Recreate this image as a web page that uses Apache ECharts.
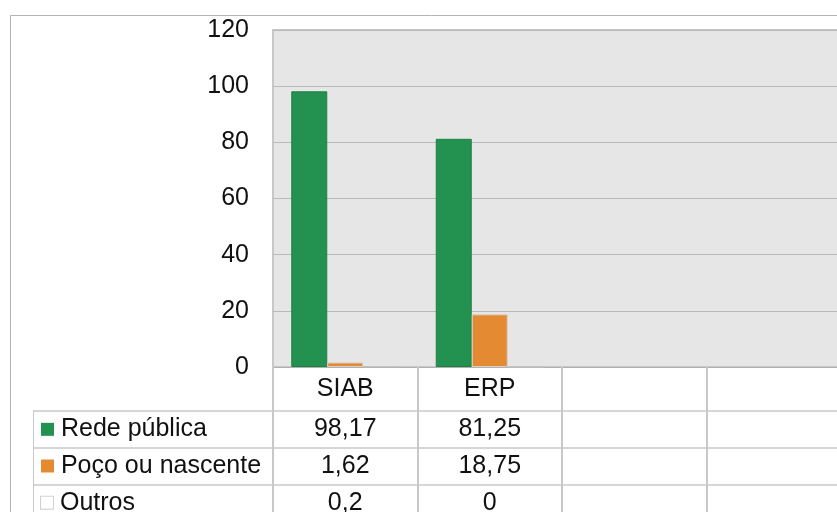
<!DOCTYPE html>
<html>
<head>
<meta charset="utf-8">
<script src="https://cdn.jsdelivr.net/npm/echarts@6/dist/echarts.min.js"></script>
<style>html,body{margin:0;padding:0;background:#fff;overflow:hidden;width:837px;height:512px}#c{width:851px;height:521px}</style>
</head>
<body>
<div id="c"></div>
<script>
// ---- data ----
const categories = ['SIAB', 'ERP', ' ', '  '];
const seriesNames = ['Rede pública', 'Poço ou nascente', 'Outros'];
const redePublica = [98.17, 81.25];
const pocoNascente = [1.62, 18.75];
const outros = [0.2, 0];
const yMin = 0, yMax = 120, yInterval = 20;

// ---- styling ----
const FONT = "'Liberation Sans', Arial, sans-serif";
const TXT = '#111111';
const GREEN = '#23914f';
const ORANGE = '#e38a33';
const LINE = '#c8c8c8';
const FS = 25;

const allValues = [redePublica, pocoNascente, outros];
const cellData = [];
allValues.forEach((arr, r) => arr.forEach((v, c) => cellData.push([c, r, v])));
const fmt = v => String(v).replace('.', ',');

const chart = echarts.init(document.getElementById('c'), null, {renderer: 'canvas'});
chart.setOption({
  animation: false,
  textStyle: {fontFamily: FONT},
  graphic: [{
    type: 'rect', silent: true, z: -10,
    shape: {x: 10.5, y: 15.5, width: 900, height: 600},
    style: {fill: 'none', stroke: '#b4b4b4', lineWidth: 1}
  }],
  grid: [
    {left: 273, right: 0, top: 30, bottom: 154, show: true,
     backgroundColor: '#e6e6e6', borderColor: '#c8c8c8', borderWidth: 2},
    {left: 33, right: 0, top: 411, bottom: 0},
    {left: 273, right: 0, top: 411, bottom: 0}
  ],
  xAxis: [
    {gridIndex: 0, type: 'category', data: categories,
     axisLine: {show: true, lineStyle: {color: '#b0b0b0', width: 1}},
     axisTick: {show: true, length: 44, lineStyle: {color: LINE, width: 2}},
     axisLabel: {fontSize: FS, color: TXT, fontFamily: FONT, margin: 10, interval: 0},
     splitLine: {show: false}},
    {gridIndex: 1, type: 'value', show: false, min: 0, max: 1},
    {gridIndex: 2, type: 'category', data: categories,
     axisLine: {show: false}, axisTick: {show: false}, axisLabel: {show: false},
     splitLine: {show: true, lineStyle: {color: LINE, width: 2}}}
  ],
  yAxis: [
    {gridIndex: 0, type: 'value', min: yMin, max: yMax, interval: yInterval,
     axisLine: {show: false}, axisTick: {show: false},
     axisLabel: {fontSize: FS, color: TXT, fontFamily: FONT, margin: 24},
     splitLine: {show: true, lineStyle: {color: '#b9b9b9', width: 1}}},
    {gridIndex: 1, type: 'category', inverse: true, data: seriesNames,
     axisLine: {show: true, lineStyle: {color: LINE, width: 1}},
     axisTick: {show: false},
     axisLabel: {inside: true, margin: 8, fontSize: FS, color: TXT, fontFamily: FONT,
       formatter: (v, i) => ['{g|}', '{o|}', '{w|}'][i] + ' ' + v,
       rich: {
         g: {width: 13, height: 13, backgroundColor: GREEN},
         o: {width: 13, height: 13, backgroundColor: ORANGE},
         w: {width: 12, height: 12, backgroundColor: '#fff', borderColor: '#d0d0d0', borderWidth: 1}
       }},
     splitLine: {show: true, lineStyle: {color: LINE, width: 1.5}}},
    {gridIndex: 2, type: 'category', inverse: true, data: seriesNames, show: false}
  ],
  series: [
    {name: seriesNames[0], type: 'bar', xAxisIndex: 0, yAxisIndex: 0, data: redePublica,
     barWidth: 36, barGap: '0%', itemStyle: {color: GREEN, borderColor: '#1f8046', borderWidth: 1}},
    {name: seriesNames[1], type: 'bar', xAxisIndex: 0, yAxisIndex: 0, data: pocoNascente,
     barWidth: 36, barGap: '0%', itemStyle: {color: ORANGE, borderColor: '#d9d0c8', borderWidth: 1}},
    {name: seriesNames[2], type: 'bar', xAxisIndex: 0, yAxisIndex: 0, data: outros,
     barWidth: 36, barGap: '0%', itemStyle: {color: '#ffffff', borderColor: '#c0c0c0', borderWidth: 1}},
    {type: 'scatter', xAxisIndex: 2, yAxisIndex: 2, symbolSize: 0, data: cellData,
     itemStyle: {opacity: 1},
     label: {show: true, position: 'inside', fontSize: FS, color: TXT, fontFamily: FONT, opacity: 1,
       formatter: p => fmt(p.data[2])}}
  ]
});
</script>
</body>
</html>
